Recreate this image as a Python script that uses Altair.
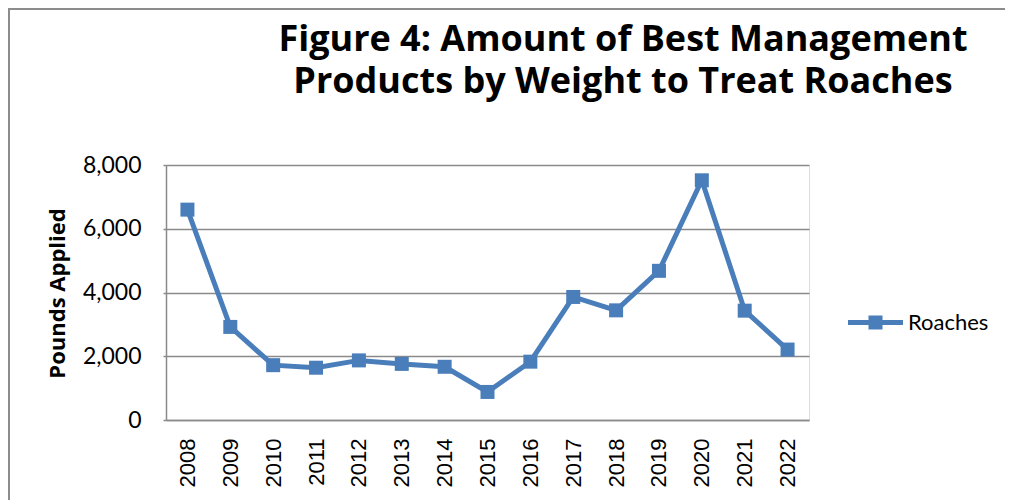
import altair as alt
import pandas as pd

years = ["2008", "2009", "2010", "2011", "2012", "2013", "2014", "2015",
         "2016", "2017", "2018", "2019", "2020", "2021", "2022"]
pounds = [6600, 2920, 1720, 1640, 1870, 1760, 1670, 880,
          1830, 3860, 3440, 4680, 7520, 3430, 2210]
series = ["Roaches"] * len(years)
title_lines = ["Figure 4: Amount of Best Management",
               "Products by Weight to Treat Roaches"]
y_ticks = [0, 2000, 4000, 6000, 8000]

df = pd.DataFrame({"Year": years, "Pounds": pounds, "Series": series})
title_df = pd.DataFrame({"t": ["\n".join(title_lines)]})

BLUE = "#4A7EBB"
GRID = "#8A8A8A"

x_enc = alt.X("Year:N", sort=years,
              scale=alt.Scale(paddingInner=0, paddingOuter=0),
              axis=alt.Axis(title=None, labelAngle=-90, labelFont="Liberation Sans",
                            labelFontSize=22, labelColor="#000000", ticks=False,
                            labelPadding=18, domainColor=GRID, domainWidth=1.5,
                            grid=False, labelBaseline="middle"))
y_enc = alt.Y("Pounds:Q", scale=alt.Scale(domain=[0, 8000], nice=False),
              axis=alt.Axis(title="Pounds Applied", values=y_ticks, format=",.0f",
                            labelFont="Lato", labelFontSize=23, labelColor="#000000",
                            labelPadding=22, tickSize=3, tickColor=GRID, tickWidth=1.5,
                            domainColor=GRID, domainWidth=1.5,
                            gridColor=GRID, gridWidth=1.5,
                            titleFont="Open Sans", titleFontSize=22, titleFontWeight="bold",
                            titleColor="#000000", titleAngle=-90, titleX=-109, titleY=128,
                            titleAlign="center", titleBaseline="middle"))

line = alt.Chart(df).mark_line(strokeWidth=5, color=BLUE).encode(x=x_enc, y=y_enc)

pts = alt.Chart(df).mark_square(size=196, opacity=1).encode(
    x=x_enc, y=y_enc,
    color=alt.Color("Series:N", scale=alt.Scale(range=[BLUE]),
                    legend=alt.Legend(title=None, orient="none", legendX=682, legendY=130,
                                      symbolType="M-1,-0.09H-0.255V-0.255H0.255V-0.09H1V0.09H0.255V0.255H-0.255V0.09H-1Z",
                                      symbolSize=3025, symbolStrokeWidth=0,
                                      symbolOpacity=1, symbolFillColor=BLUE,
                                      labelFont="Lato", labelFontSize=22, labelColor="#000000",
                                      labelOffset=5, padding=0)))

border = alt.Chart(df).mark_rect(fill=None, stroke="#8C8C8C", strokeWidth=1.5).encode(
    x=alt.value(-157), x2=alt.value(1200), y=alt.value(-156), y2=alt.value(700))

title = alt.Chart(title_df).mark_text(
    font="Open Sans", fontSize=36, fontWeight="bold", color="#000000",
    align="center", baseline="alphabetic", lineBreak="\n", lineHeight=42
).encode(text="t:N", x=alt.value(457), y=alt.value(-114))

chart = alt.layer(border, line, pts, title).properties(
    width=643, height=255,
    autosize=alt.AutoSizeParams(type="none"),
    padding={"left": 158, "top": 157, "right": 196, "bottom": 80},
).configure_view(stroke=None).configure(background="white")

chart.save("out.html", embed_options={"renderer": "svg", "actions": False})
